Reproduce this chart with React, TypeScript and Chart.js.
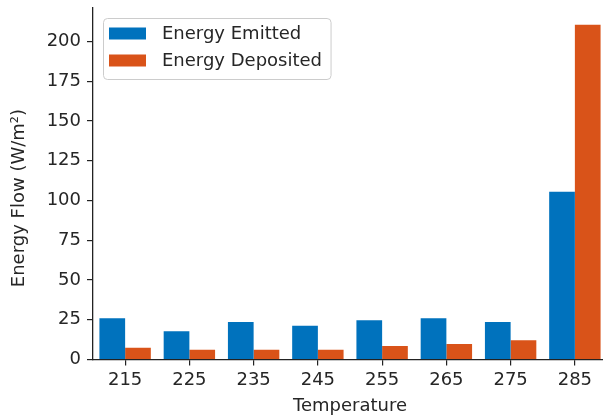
import React, { useEffect, useRef } from "react";
import { Chart, registerables } from "chart.js";

Chart.register(...registerables);

const temperatures = ["215", "225", "235", "245", "255", "265", "275", "285"];
const energyEmitted = [25.9, 17.7, 23.5, 21.2, 24.6, 25.9, 23.5, 105.4];
const energyDeposited = [7.4, 6.2, 6.2, 6.2, 8.5, 9.7, 12.1, 210.5];

const BLUE = "#0072BD";
const ORANGE = "#D95319";
const TEXT = "#262626";
const FONT_FAMILY = "'DejaVu Sans', sans-serif";
const FONT_SIZE = 18;

// Framed legend drawn inside the plot, in the upper-left corner
const insideLegend = {
  id: "insideLegend",
  afterDraw(chart: any) {
    const ctx = chart.ctx as CanvasRenderingContext2D;
    const area = chart.chartArea;
    const sets = chart.data.datasets;
    ctx.save();
    ctx.font = `${FONT_SIZE}px ${FONT_FAMILY}`;
    const boxX = area.left + 10.5;
    const boxY = area.top + 10.5;
    const rowH = 27;
    const patchW = 37;
    const patchH = 12;
    const textX = boxX + 58.5;
    let maxW = 0;
    sets.forEach((d: any) => {
      maxW = Math.max(maxW, ctx.measureText(d.label).width);
    });
    const boxW = textX - boxX + maxW + 9;
    const boxH = 61;
    ctx.beginPath();
    ctx.roundRect(boxX, boxY, boxW, boxH, 4);
    ctx.fillStyle = "rgba(255,255,255,0.8)";
    ctx.fill();
    ctx.strokeStyle = "#cccccc";
    ctx.lineWidth = 1;
    ctx.stroke();
    sets.forEach((d: any, i: number) => {
      const cy = boxY + 15 + i * rowH;
      ctx.fillStyle = d.backgroundColor;
      ctx.fillRect(boxX + 5.5, cy - patchH / 2, patchW, patchH);
      ctx.fillStyle = TEXT;
      ctx.textBaseline = "middle";
      ctx.textAlign = "left";
      ctx.fillText(d.label, textX, cy + 1);
    });
    ctx.restore();
  },
};

export default function App() {
  const canvasRef = useRef<HTMLCanvasElement | null>(null);

  useEffect(() => {
    if (!canvasRef.current) return;
    const font = { family: FONT_FAMILY, size: FONT_SIZE };
    const chart = new Chart(canvasRef.current, {
      type: "bar",
      data: {
        labels: temperatures,
        datasets: [
          {
            label: "Energy Emitted",
            data: energyEmitted,
            backgroundColor: BLUE,
            borderWidth: 0,
          },
          {
            label: "Energy Deposited",
            data: energyDeposited,
            backgroundColor: ORANGE,
            borderWidth: 0,
          },
        ],
      },
      options: {
        responsive: false,
        animation: false,
        layout: { padding: { top: 8, left: 0, right: 0, bottom: 0 } },
        datasets: { bar: { categoryPercentage: 0.8, barPercentage: 1.0 } },
        plugins: {
          legend: { display: false },
          tooltip: { enabled: false },
        },
        scales: {
          x: {
            offset: true,
            grid: {
              offset: false,
              drawOnChartArea: false,
              drawTicks: true,
              tickLength: 6,
              color: "#222",
              lineWidth: 1.2,
            },
            border: { display: true, color: "#222", width: 1.3 },
            ticks: { font, color: TEXT, padding: 4, maxRotation: 0 },
            title: {
              display: true,
              text: "Temperature",
              font,
              color: TEXT,
              padding: { top: 0, bottom: 1 },
            },
            afterFit(scale: any) {
              scale.height = 58.5;
              scale.paddingLeft = 0;
              scale.paddingRight = 0;
              scale.paddingTop = 0;
              scale.paddingBottom = 0;
            },
          },
          y: {
            min: 0,
            max: 221,
            grid: {
              drawOnChartArea: false,
              drawTicks: true,
              tickLength: 6,
              color: "#222",
              lineWidth: 1.2,
            },
            border: { display: true, color: "#222", width: 1.3 },
            ticks: { font, color: TEXT, padding: 6, stepSize: 25 },
            afterBuildTicks(scale: any) {
              scale.ticks = scale.ticks.filter((t: any) => t.value % 25 === 0);
            },
            title: {
              display: true,
              // trailing spaces sit the visible label a little lower on the axis
              text: "Energy Flow (W/m\u00B2)     ",
              font,
              color: TEXT,
              padding: { top: 9, bottom: 0 },
            },
            afterFit(scale: any) {
              scale.width = 93;
              scale.paddingLeft = 0;
              scale.paddingRight = 0;
              scale.paddingTop = 0;
              scale.paddingBottom = 0;
            },
          },
        },
      },
      plugins: [insideLegend],
    });
    return () => chart.destroy();
  }, []);

  return (
    <div
      style={{
        position: "fixed",
        left: 0,
        top: 0,
        width: 603,
        height: 418,
        overflow: "hidden",
        background: "#fff",
      }}
    >
      <canvas ref={canvasRef} width={607} height={418} style={{ display: "block" }} />
    </div>
  );
}
